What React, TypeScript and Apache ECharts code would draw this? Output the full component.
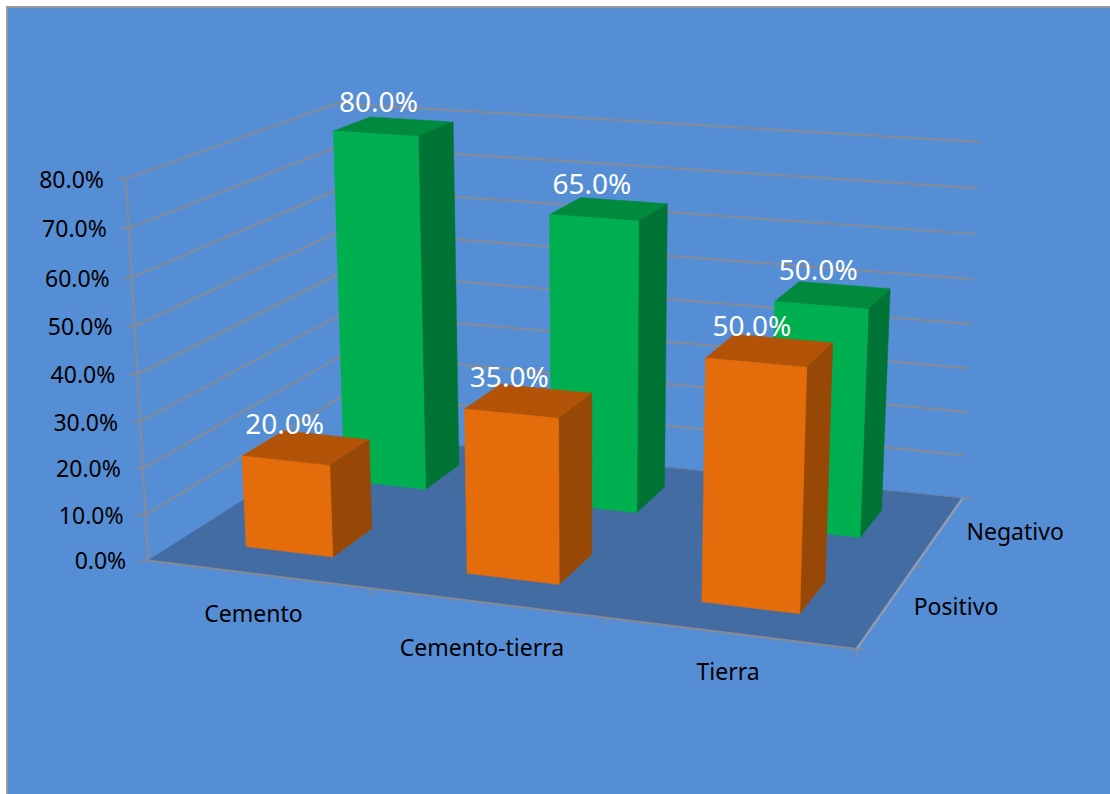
import React, { useEffect, useRef } from "react";
import * as echarts from "echarts";

const categories = ["Cemento", "Cemento-tierra", "Tierra"];
const depthSeries = ["Positivo", "Negativo"];
const positivo = [20, 35, 50];
const negativo = [80, 65, 50];
const valueTicks = [0, 10, 20, 30, 40, 50, 60, 70, 80];

const Y_MAX = 80;
const BAR_HALF_X = 0.2;
const BAR_HALF_Z = 0.2;
const FONT = '"Noto Sans", sans-serif';
const GRID_COLOR = "#878a93";
const categoryLabelNudge = [[0, 0], [0, 5], [3, -1]];
const positivoLabelNudge = [[4, -5], [3, -5], [1, -5]];
const negativoLabelNudge = [[8, 0], [3, -2], [2, -3]];

// Box corners [category, value, depth] and where they land on the canvas; the
// camera matrix is solved from them so every mark goes through one projection.
const cameraAnchors: [number, number, number, number, number][] = [
  [0, 0, 0, 146, 560],
  [3, 0, 0, 857, 649],
  [3, 0, 2, 962, 498],
  [0, 0, 2, 350, 434],
  [0, 80, 0, 128, 179],
  [0, 80, 2, 335, 103],
  [3, 80, 2, 981, 142],
];

function solveCamera(): number[] {
  const rows: number[][] = [];
  const rhs: number[] = [];
  for (const [cx, vy, dz, u, v] of cameraAnchors) {
    const X = cx / 3, Y = vy / Y_MAX, Z = dz / 2, a = u / 1000, b = v / 1000;
    rows.push([X, Y, Z, 1, 0, 0, 0, 0, -a * X, -a * Y, -a * Z]);
    rhs.push(a);
    rows.push([0, 0, 0, 0, X, Y, Z, 1, -b * X, -b * Y, -b * Z]);
    rhs.push(b);
  }
  const n = 11;
  const m: number[][] = [];
  for (let i = 0; i < n; i++) {
    const line: number[] = [];
    for (let j = 0; j < n; j++) {
      let s = 0;
      rows.forEach((r) => (s += r[i] * r[j]));
      line.push(s);
    }
    let t = 0;
    rows.forEach((r, k) => (t += r[i] * rhs[k]));
    line.push(t);
    m.push(line);
  }
  for (let c = 0; c < n; c++) {
    let best = c;
    for (let r = c + 1; r < n; r++) if (Math.abs(m[r][c]) > Math.abs(m[best][c])) best = r;
    [m[c], m[best]] = [m[best], m[c]];
    for (let r = 0; r < n; r++) {
      if (r === c) continue;
      const f = m[r][c] / m[c][c];
      for (let k = c; k <= n; k++) m[r][k] -= f * m[c][k];
    }
  }
  return m.map((line, i) => line[n] / line[i]);
}

const cam = solveCamera();

function project(cx: number, vy: number, dz: number): number[] {
  const X = cx / 3, Y = vy / Y_MAX, Z = dz / 2;
  const w = cam[8] * X + cam[9] * Y + cam[10] * Z + 1;
  return [
    ((cam[0] * X + cam[1] * Y + cam[2] * Z + cam[3]) / w) * 1000,
    ((cam[4] * X + cam[5] * Y + cam[6] * Z + cam[7]) / w) * 1000,
  ];
}

const face = (points: number[][], fill: string) => ({
  type: "polygon",
  shape: { points },
  style: { fill, stroke: fill, lineWidth: 0.5 },
});

const line = (points: number[][], stroke: string, lineWidth: number) => ({
  type: "polyline",
  shape: { points },
  style: { fill: "none", stroke, lineWidth },
});

const label = (x: number, y: number, text: string, fill: string, size: number, align: string) => ({
  type: "text",
  x,
  y,
  style: { text, fill, fontSize: size, fontFamily: FONT, align, verticalAlign: "middle" },
});

// One 3D column: front, side and top faces from its category, depth slot and value.
function columnSeries(values: number[], depth: number, zLevel: number, front: string, top: string, side: string) {
  return {
    type: "custom",
    coordinateSystem: "none",
    silent: true,
    z: zLevel,
    data: values.map((v, i) => [i, depth, v]),
    renderItem: (_: unknown, api: any) => {
      const cx = api.value(0) + 0.5;
      const dz = api.value(1) + 0.5;
      const v = api.value(2);
      const x0 = cx - BAR_HALF_X, x1 = cx + BAR_HALF_X;
      const z0 = dz - BAR_HALF_Z, z1 = dz + BAR_HALF_Z;
      return {
        type: "group",
        children: [
          face([project(x0, v, z0), project(x1, v, z0), project(x1, v, z1), project(x0, v, z1)], top),
          face([project(x1, 0, z0), project(x1, 0, z1), project(x1, v, z1), project(x1, v, z0)], side),
          face([project(x0, 0, z0), project(x1, 0, z0), project(x1, v, z0), project(x0, v, z0)], front),
        ],
      };
    },
  };
}

function App() {
  const ref = useRef<HTMLDivElement>(null);

  useEffect(() => {
    const chart = echarts.init(ref.current, undefined, { renderer: "svg" });

    const valueLabelData = [
      ...negativo.map((v, i) => [i, 1, v]),
      ...positivo.map((v, i) => [i, 0, v]),
    ];

    chart.setOption({
      animation: false,
      backgroundColor: "#ffffff",
      graphic: [
        {
          type: "rect",
          z: -1,
          shape: { x: 7, y: 7, width: 1110, height: 794 },
          style: { fill: "#558ed5", stroke: "#999999", lineWidth: 2 },
        },
      ],
      series: [
        {
          // floor
          type: "custom",
          coordinateSystem: "none",
          silent: true,
          z: 1,
          data: [[0]],
          renderItem: () => {
            const a = project(0, 0, 0), b = project(3, 0, 0), c = project(3, 0, 2), d = project(0, 0, 2);
            return {
              type: "group",
              children: [
                face([a, b, c, d], "#436ca3"),
                line([d, c], "#6b85ab", 1),
                line([a, b], GRID_COLOR, 2),
                line([b, c], "#8f9bb0", 2.5),
              ],
            };
          },
        },
        {
          // wall gridlines, value ticks and value axis labels
          type: "custom",
          coordinateSystem: "none",
          silent: true,
          z: 2,
          data: valueTicks.map((t) => [t]),
          renderItem: (_: unknown, api: any) => {
            const t = api.value(0);
            const a = project(0, t, 0), d = project(0, t, 2), c = project(3, t, 2);
            const children: any[] = [
              line([[a[0] - 8, a[1]], a], GRID_COLOR, 2),
              label(a[0] - 22, a[1], `${t.toFixed(1)}%`, "#000000", 23, "right"),
            ];
            if (t > 0) children.push(line([a, d, c], GRID_COLOR, 2));
            const next = project(0, Math.min(t + 10, Y_MAX), 0);
            if (t < Y_MAX) children.push(line([a, next], GRID_COLOR, 2));
            return { type: "group", children };
          },
        },
        columnSeries(negativo, 1, 3, "#00b050", "#008a3e", "#007434"),
        columnSeries(positivo, 0, 4, "#e46c0a", "#b25307", "#974806"),
        {
          // category axis ticks and labels along the front edge
          type: "custom",
          coordinateSystem: "none",
          silent: true,
          z: 6,
          data: categories.map((_, i) => [i]),
          renderItem: (_: unknown, api: any) => {
            const i = api.value(0);
            const tick = project(i + 1, 0, 0);
            const mid = project(i + 0.5, 0, 0);
            return {
              type: "group",
              children: [
                line([tick, [tick[0], tick[1] + 8]], GRID_COLOR, 1.5),
                label(mid[0] - 4 + categoryLabelNudge[i][0], mid[1] + 39 + categoryLabelNudge[i][1], categories[i], "#000000", 23, "center"),
              ],
            };
          },
        },
        {
          // depth axis ticks and labels along the right edge
          type: "custom",
          coordinateSystem: "none",
          silent: true,
          z: 6,
          data: [0, 1, 2].map((t) => [t]),
          renderItem: (_: unknown, api: any) => {
            const t = api.value(0);
            const tick = project(3, 0, t);
            const children: any[] = [line([tick, [tick[0] + 9, tick[1]]], GRID_COLOR, 1.5)];
            if (t < depthSeries.length) {
              const mid = project(3, 0, t + 0.5);
              children.push(label(mid[0] + 27, mid[1], depthSeries[t], "#000000", 23, "left"));
            }
            return { type: "group", children };
          },
        },
        {
          // value labels above the front edge of each column top
          type: "custom",
          coordinateSystem: "none",
          silent: true,
          z: 7,
          data: valueLabelData,
          renderItem: (_: unknown, api: any) => {
            const i = api.value(0);
            const depth = api.value(1);
            const v = api.value(2);
            const top = project(i + 0.5, v, depth + 0.5 - BAR_HALF_Z);
            const nudge = (depth === 1 ? negativoLabelNudge : positivoLabelNudge)[i];
            return label(top[0] - 5 + nudge[0], top[1] - 33 + nudge[1], `${v.toFixed(1)}%`, "#ffffff", 28, "center");
          },
        },
      ],
    });

    return () => chart.dispose();
  }, []);

  return <div ref={ref} style={{ position: "fixed", left: 0, top: 0, width: 1110, height: 794 }} />;
}

export default App;
